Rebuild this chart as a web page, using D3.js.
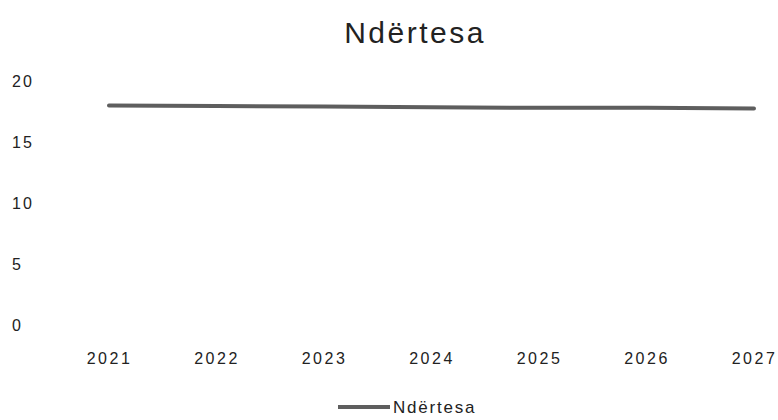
<!DOCTYPE html>
<html>
<head>
<meta charset="utf-8">
<script src="https://cdn.jsdelivr.net/npm/d3@7"></script>
<style>
  body { margin: 0; background: #fff; }
  svg text { font-family: "Liberation Sans", Arial, sans-serif; fill: #222; }
</style>
</head>
<body>
<div id="chart"></div>
<script>
// Data
const years = [2021, 2022, 2023, 2024, 2025, 2026, 2027];
const values = [18.0, 17.95, 17.9, 17.85, 17.8, 17.8, 17.75];
const yTicks = [0, 5, 10, 15, 20];
const seriesName = "Ndërtesa";
const chartTitle = "Ndërtesa";

const width = 778, height = 420;

const svg = d3.select('#chart')
  .append('svg')
  .attr('width', width)
  .attr('height', height);

// Scales
const x = d3.scalePoint()
  .domain(years)
  .range([109, 754]);

const y = d3.scaleLinear()
  .domain([0, 20])
  .range([325, 81]);

// Title
svg.append('text')
  .attr('x', 415)
  .attr('y', 43)
  .attr('text-anchor', 'middle')
  .style('font-size', '30px')
  .style('letter-spacing', '2.5px')
  .text(chartTitle);

// Y axis labels (no axis line, no grid)
const yAxis = d3.axisLeft(y).tickValues(yTicks).tickSize(0);
const yG = svg.append('g')
  .attr('transform', 'translate(12,0)')
  .call(yAxis);
yG.select('.domain').remove();
yG.selectAll('text')
  .attr('x', 0)
  .attr('dy', '0.35em')
  .attr('text-anchor', 'start')
  .style('font-family', '"Liberation Sans", Arial, sans-serif')
  .style('font-size', '16px')
  .style('letter-spacing', '2px')
  .style('fill', '#222');

// X axis labels
const xAxis = d3.axisBottom(x).tickSize(0);
const xG = svg.append('g')
  .attr('transform', 'translate(0,353)')
  .call(xAxis);
xG.select('.domain').remove();
xG.selectAll('text')
  .attr('y', 0)
  .attr('dy', '0.71em')
  .style('font-family', '"Liberation Sans", Arial, sans-serif')
  .style('font-size', '16px')
  .style('letter-spacing', '2.5px')
  .style('fill', '#222');

// Series line
const line = d3.line()
  .x((d, i) => x(years[i]))
  .y(d => y(d));

svg.append('path')
  .datum(values)
  .attr('fill', 'none')
  .attr('stroke', '#5e5e5e')
  .attr('stroke-width', 4)
  .attr('stroke-linecap', 'round')
  .attr('d', line);

// Legend
const legend = svg.append('g').attr('transform', 'translate(338,407)');
legend.append('line')
  .attr('x1', 0).attr('x2', 52)
  .attr('y1', 0).attr('y2', 0)
  .attr('stroke', '#5e5e5e')
  .attr('stroke-width', 4);
legend.append('text')
  .attr('x', 55)
  .attr('y', 6)
  .style('font-size', '17px')
  .style('letter-spacing', '1.8px')
  .text(seriesName);
</script>
</body>
</html>
